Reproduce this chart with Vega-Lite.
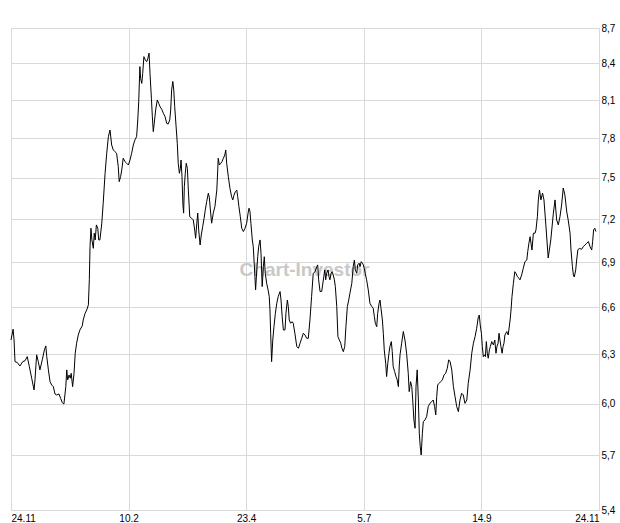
{
  "$schema": "https://vega.github.io/schema/vega-lite/v6.json",
  "width": 588,
  "height": 482,
  "autosize": {"type": "none"},
  "padding": {"left": 11, "top": 28, "right": 21, "bottom": 13},
  "background": "white",
  "config": {"view": {"stroke": "#d9d9d9", "strokeWidth": 1}, "font": "Liberation Sans"},
  "data": {"values": [
    {"t":0.0,"price":6.389},{"t":0.9,"price":6.458},{"t":1.3,"price":6.389},{"t":1.7,"price":6.254},{"t":2.7,"price":6.248},{"t":3.8,"price":6.227},{"t":5.0,"price":6.254},{"t":6.0,"price":6.260},{"t":6.9,"price":6.285},{"t":7.8,"price":6.223},
    {"t":8.8,"price":6.152},{"t":9.8,"price":6.081},{"t":10.2,"price":6.142},{"t":10.9,"price":6.296},{"t":11.6,"price":6.254},{"t":12.3,"price":6.203},{"t":13.3,"price":6.265},{"t":14.2,"price":6.327},{"t":14.8,"price":6.352},{"t":15.2,"price":6.285},
    {"t":15.9,"price":6.203},{"t":16.6,"price":6.131},{"t":17.3,"price":6.111},{"t":18.0,"price":6.101},{"t":18.7,"price":6.057},{"t":19.4,"price":6.051},{"t":20.4,"price":6.057},{"t":21.1,"price":6.031},{"t":21.8,"price":6.005},{"t":22.5,"price":5.997},
    {"t":23.3,"price":6.101},{"t":23.7,"price":6.203},{"t":24.1,"price":6.142},{"t":24.7,"price":6.172},{"t":25.2,"price":6.152},{"t":25.6,"price":6.182},{"t":26.2,"price":6.101},{"t":26.8,"price":6.182},{"t":27.3,"price":6.306},{"t":27.9,"price":6.369},
    {"t":28.6,"price":6.421},{"t":29.3,"price":6.453},{"t":30.3,"price":6.479},{"t":30.7,"price":6.517},{"t":31.5,"price":6.560},{"t":32.2,"price":6.582},{"t":32.9,"price":6.615},{"t":33.3,"price":6.781},{"t":33.6,"price":7.007},{"t":34.0,"price":7.136},
    {"t":34.4,"price":7.054},{"t":35.0,"price":6.996},{"t":35.4,"price":7.101},{"t":35.8,"price":7.054},{"t":36.3,"price":7.160},{"t":36.9,"price":7.136},{"t":37.3,"price":7.054},{"t":37.8,"price":7.054},{"t":38.6,"price":7.172},{"t":39.2,"price":7.315},
    {"t":40.0,"price":7.535},{"t":40.7,"price":7.686},{"t":41.4,"price":7.813},{"t":42.1,"price":7.865},{"t":42.8,"price":7.749},{"t":43.5,"price":7.711},{"t":44.2,"price":7.698},{"t":44.9,"price":7.686},{"t":45.6,"price":7.585},{"t":46.0,"price":7.473},
    {"t":46.6,"price":7.510},{"t":47.1,"price":7.560},{"t":47.7,"price":7.648},{"t":48.5,"price":7.622},{"t":49.2,"price":7.610},{"t":49.9,"price":7.597},{"t":50.6,"price":7.635},{"t":51.3,"price":7.686},{"t":52.0,"price":7.749},{"t":52.7,"price":7.788},
    {"t":53.4,"price":7.813},{"t":53.9,"price":7.943},{"t":54.3,"price":8.087},{"t":54.8,"price":8.374},{"t":55.1,"price":8.277},{"t":55.6,"price":8.236},{"t":56.0,"price":8.318},{"t":56.5,"price":8.457},{"t":57.1,"price":8.429},{"t":57.7,"price":8.415},
    {"t":58.2,"price":8.443},{"t":58.7,"price":8.486},{"t":59.1,"price":8.318},{"t":59.7,"price":8.115},{"t":60.1,"price":7.969},{"t":60.5,"price":7.852},{"t":60.9,"price":7.917},{"t":61.5,"price":8.022},{"t":62.2,"price":8.102},{"t":62.8,"price":8.075},
    {"t":63.4,"price":8.048},{"t":64.1,"price":8.027},{"t":64.8,"price":7.995},{"t":65.5,"price":7.969},{"t":66.2,"price":7.917},{"t":66.8,"price":7.911},{"t":67.5,"price":7.943},{"t":67.9,"price":8.022},{"t":68.3,"price":8.183},{"t":68.8,"price":8.252},
    {"t":69.2,"price":8.183},{"t":69.6,"price":8.048},{"t":70.2,"price":7.890},{"t":70.7,"price":7.762},{"t":71.1,"price":7.610},{"t":71.6,"price":7.535},{"t":72.0,"price":7.572},{"t":72.3,"price":7.635},{"t":72.7,"price":7.510},{"t":73.1,"price":7.302},
    {"t":73.4,"price":7.244},{"t":73.7,"price":7.436},{"t":74.1,"price":7.535},{"t":74.5,"price":7.610},{"t":75.0,"price":7.572},{"t":75.4,"price":7.411},{"t":76.0,"price":7.218},{"t":76.8,"price":7.207},{"t":77.5,"price":7.195},{"t":78.1,"price":7.124},
    {"t":78.5,"price":7.066},{"t":79.0,"price":7.172},{"t":79.4,"price":7.244},{"t":79.8,"price":7.124},{"t":80.4,"price":7.019},{"t":80.9,"price":7.089},{"t":81.5,"price":7.148},{"t":82.1,"price":7.207},{"t":82.6,"price":7.267},{"t":83.2,"price":7.327},
    {"t":83.9,"price":7.388},{"t":84.3,"price":7.360},{"t":84.9,"price":7.244},{"t":85.3,"price":7.172},{"t":86.0,"price":7.244},{"t":86.7,"price":7.291},{"t":87.5,"price":7.411},{"t":87.9,"price":7.560},{"t":88.1,"price":7.648},{"t":88.6,"price":7.597},
    {"t":89.2,"price":7.610},{"t":89.7,"price":7.622},{"t":90.3,"price":7.648},{"t":90.9,"price":7.673},{"t":91.3,"price":7.711},{"t":91.7,"price":7.610},{"t":92.4,"price":7.510},{"t":93.1,"price":7.423},{"t":93.8,"price":7.362},{"t":94.3,"price":7.339},
    {"t":94.8,"price":7.374},{"t":95.4,"price":7.399},{"t":96.0,"price":7.411},{"t":96.4,"price":7.362},{"t":96.9,"price":7.291},{"t":97.5,"price":7.218},{"t":98.1,"price":7.136},{"t":98.8,"price":7.113},{"t":99.5,"price":7.136},{"t":100.2,"price":7.172},
    {"t":100.8,"price":7.244},{"t":101.2,"price":7.279},{"t":101.6,"price":7.255},{"t":102.0,"price":7.172},{"t":102.6,"price":7.054},{"t":103.0,"price":7.007},{"t":103.4,"price":6.894},{"t":103.7,"price":6.803},{"t":104.0,"price":6.714},{"t":104.5,"price":6.848},
    {"t":104.9,"price":6.938},{"t":105.3,"price":7.007},{"t":105.9,"price":7.054},{"t":106.3,"price":6.961},{"t":106.6,"price":6.825},{"t":106.8,"price":6.736},{"t":107.3,"price":6.870},{"t":107.7,"price":6.938},{"t":108.1,"price":6.825},{"t":108.7,"price":6.758},
    {"t":109.3,"price":6.714},{"t":109.8,"price":6.669},{"t":110.1,"price":6.582},{"t":110.4,"price":6.432},{"t":110.8,"price":6.254},{"t":111.3,"price":6.389},{"t":111.8,"price":6.474},{"t":112.4,"price":6.560},{"t":113.0,"price":6.626},{"t":113.6,"price":6.669},
    {"t":114.4,"price":6.703},{"t":114.8,"price":6.647},{"t":115.3,"price":6.538},{"t":115.8,"price":6.453},{"t":116.5,"price":6.453},{"t":116.9,"price":6.560},{"t":117.5,"price":6.647},{"t":117.9,"price":6.604},{"t":118.3,"price":6.517},{"t":118.9,"price":6.496},
    {"t":119.5,"price":6.506},{"t":120.0,"price":6.496},{"t":120.7,"price":6.432},{"t":121.5,"price":6.348},{"t":122.2,"price":6.337},{"t":122.9,"price":6.369},{"t":123.6,"price":6.400},{"t":124.3,"price":6.432},{"t":125.0,"price":6.421},{"t":125.7,"price":6.400},
    {"t":126.4,"price":6.400},{"t":127.1,"price":6.517},{"t":127.8,"price":6.669},{"t":128.5,"price":6.825},{"t":129.3,"price":6.836},{"t":130.0,"price":6.870},{"t":130.4,"price":6.882},{"t":130.8,"price":6.781},{"t":131.4,"price":6.703},{"t":132.1,"price":6.703},
    {"t":132.5,"price":6.747},{"t":133.0,"price":6.803},{"t":133.4,"price":6.848},{"t":133.8,"price":6.781},{"t":134.2,"price":6.825},{"t":134.8,"price":6.848},{"t":135.2,"price":6.803},{"t":135.6,"price":6.781},{"t":136.1,"price":6.825},{"t":136.5,"price":6.836},
    {"t":137.0,"price":6.814},{"t":137.5,"price":6.781},{"t":137.9,"price":6.736},{"t":138.5,"price":6.604},{"t":139.0,"price":6.410},{"t":139.6,"price":6.389},{"t":140.2,"price":6.369},{"t":140.7,"price":6.337},{"t":141.3,"price":6.316},{"t":141.9,"price":6.348},
    {"t":142.4,"price":6.474},{"t":143.0,"price":6.604},{"t":143.6,"price":6.647},{"t":144.1,"price":6.692},{"t":144.9,"price":6.758},{"t":145.5,"price":6.870},{"t":146.0,"price":6.915},{"t":146.4,"price":6.848},{"t":147.0,"price":6.825},{"t":147.4,"price":6.882},
    {"t":148.0,"price":6.894},{"t":148.4,"price":6.870},{"t":148.9,"price":6.904},{"t":149.4,"price":6.894},{"t":149.8,"price":6.882},{"t":150.2,"price":6.859},{"t":150.6,"price":6.825},{"t":151.2,"price":6.781},{"t":151.9,"price":6.714},{"t":152.6,"price":6.626},
    {"t":153.4,"price":6.604},{"t":154.0,"price":6.593},{"t":154.5,"price":6.538},{"t":154.9,"price":6.496},{"t":155.5,"price":6.474},{"t":155.9,"price":6.560},{"t":156.5,"price":6.626},{"t":156.9,"price":6.647},{"t":157.3,"price":6.593},{"t":157.9,"price":6.517},
    {"t":158.3,"price":6.432},{"t":158.7,"price":6.327},{"t":159.3,"price":6.244},{"t":159.7,"price":6.162},{"t":160.2,"price":6.244},{"t":160.7,"price":6.306},{"t":161.1,"price":6.348},{"t":161.7,"price":6.379},{"t":162.1,"price":6.316},{"t":162.5,"price":6.223},
    {"t":163.1,"price":6.193},{"t":163.7,"price":6.162},{"t":164.2,"price":6.142},{"t":164.7,"price":6.101},{"t":165.1,"price":6.233},{"t":165.4,"price":6.296},{"t":166.1,"price":6.369},{"t":166.8,"price":6.443},{"t":167.5,"price":6.389},{"t":168.2,"price":6.306},
    {"t":168.9,"price":6.182},{"t":169.3,"price":6.071},{"t":169.9,"price":6.131},{"t":170.4,"price":6.101},{"t":170.8,"price":6.021},{"t":171.3,"price":5.903},{"t":171.8,"price":5.855},{"t":172.2,"price":6.101},{"t":172.7,"price":6.203},{"t":173.2,"price":6.021},
    {"t":173.6,"price":5.826},{"t":174.0,"price":5.749},{"t":174.4,"price":5.702},{"t":174.9,"price":5.826},{"t":175.3,"price":5.893},{"t":176.0,"price":5.903},{"t":176.7,"price":5.922},{"t":177.4,"price":5.982},{"t":178.1,"price":6.001},{"t":178.9,"price":6.011},
    {"t":179.5,"price":6.021},{"t":180.1,"price":5.982},{"t":180.6,"price":5.933},{"t":181.0,"price":6.041},{"t":181.4,"price":6.111},{"t":182.0,"price":6.121},{"t":182.7,"price":6.131},{"t":183.4,"price":6.142},{"t":184.1,"price":6.172},{"t":184.8,"price":6.182},
    {"t":185.5,"price":6.213},{"t":186.1,"price":6.265},{"t":186.7,"price":6.254},{"t":187.4,"price":6.203},{"t":188.1,"price":6.101},{"t":188.8,"price":6.041},{"t":189.5,"price":5.982},{"t":190.2,"price":5.952},{"t":190.9,"price":6.021},{"t":191.6,"price":6.061},
    {"t":192.3,"price":6.051},{"t":193.0,"price":6.001},{"t":193.8,"price":6.021},{"t":194.4,"price":6.121},{"t":195.2,"price":6.203},{"t":195.9,"price":6.306},{"t":196.6,"price":6.369},{"t":197.3,"price":6.410},{"t":198.0,"price":6.464},{"t":198.7,"price":6.538},
    {"t":199.1,"price":6.549},{"t":199.5,"price":6.485},{"t":200.0,"price":6.432},{"t":200.4,"price":6.348},{"t":200.8,"price":6.285},{"t":201.2,"price":6.296},{"t":201.7,"price":6.285},{"t":202.1,"price":6.379},{"t":202.5,"price":6.306},{"t":202.9,"price":6.275},
    {"t":203.4,"price":6.327},{"t":203.8,"price":6.348},{"t":204.4,"price":6.379},{"t":205.1,"price":6.358},{"t":205.7,"price":6.389},{"t":206.2,"price":6.306},{"t":206.6,"price":6.348},{"t":207.1,"price":6.369},{"t":207.5,"price":6.432},{"t":207.9,"price":6.389},
    {"t":208.3,"price":6.348},{"t":208.8,"price":6.306},{"t":209.2,"price":6.348},{"t":209.6,"price":6.369},{"t":210.0,"price":6.421},{"t":210.8,"price":6.443},{"t":211.4,"price":6.421},{"t":212.2,"price":6.517},{"t":212.6,"price":6.582},{"t":213.0,"price":6.669},
    {"t":213.6,"price":6.758},{"t":214.2,"price":6.836},{"t":214.7,"price":6.825},{"t":215.3,"price":6.803},{"t":215.9,"price":6.792},{"t":216.4,"price":6.781},{"t":217.1,"price":6.814},{"t":217.8,"price":6.859},{"t":218.5,"price":6.904},{"t":219.3,"price":6.915},
    {"t":219.7,"price":6.973},{"t":220.2,"price":7.031},{"t":220.7,"price":7.077},{"t":221.1,"price":7.031},{"t":221.5,"price":6.984},{"t":222.1,"price":7.101},{"t":222.8,"price":7.101},{"t":223.2,"price":7.124},{"t":223.8,"price":7.218},{"t":224.2,"price":7.339},
    {"t":224.7,"price":7.411},{"t":225.3,"price":7.339},{"t":226.0,"price":7.389},{"t":226.6,"price":7.339},{"t":227.4,"price":7.160},{"t":228.4,"price":6.929},{"t":229.5,"price":7.054},{"t":230.6,"price":7.244},{"t":231.3,"price":7.339},{"t":232.0,"price":7.195},
    {"t":232.7,"price":7.160},{"t":233.4,"price":7.218},{"t":234.1,"price":7.302},{"t":234.8,"price":7.426},{"t":235.5,"price":7.374},{"t":236.3,"price":7.252},{"t":236.9,"price":7.195},{"t":237.7,"price":7.101},{"t":238.1,"price":6.984},{"t":238.7,"price":6.870},
    {"t":239.1,"price":6.814},{"t":239.5,"price":6.800},{"t":240.1,"price":6.848},{"t":240.5,"price":6.915},{"t":241.0,"price":6.984},{"t":241.6,"price":6.996},{"t":242.6,"price":6.989},{"t":243.3,"price":7.007},{"t":244.0,"price":7.019},{"t":244.8,"price":7.031},
    {"t":245.5,"price":7.043},{"t":246.2,"price":7.007},{"t":246.9,"price":6.984},{"t":247.3,"price":7.043},{"t":247.7,"price":7.124},{"t":248.2,"price":7.136},{"t":248.7,"price":7.113}
  ]},
  "encoding": {
    "x": {
      "field": "t", "type": "quantitative",
      "scale": {"domain": [0, 250], "nice": false, "zero": false},
      "axis": {
        "values": [0, 50, 100, 150, 200, 250],
        "labelExpr": "datum.value == 0 ? '24.11' : datum.value == 50 ? '10.2' : datum.value == 100 ? '23.4' : datum.value == 150 ? '5.7' : datum.value == 200 ? '14.9' : '24.11'",
        "title": null, "ticks": false, "tickSize": 0, "domain": false,
        "grid": true, "gridColor": "#d9d9d9", "gridWidth": 1,
        "labelPadding": 3, "labelFlush": true, "labelOverlap": false,
        "labelFont": "Liberation Sans", "labelFontSize": 10, "labelColor": "#000000"
      }
    },
    "y": {
      "field": "price", "type": "quantitative",
      "scale": {"type": "log", "domain": [5.4, 8.7], "nice": false},
      "axis": {
        "orient": "right",
        "values": [5.4, 5.7, 6.0, 6.3, 6.6, 6.9, 7.2, 7.5, 7.8, 8.1, 8.4, 8.7],
        "labelExpr": "replace(format(datum.value, '.1f'), '.', ',')",
        "title": null, "ticks": false, "tickSize": 0, "domain": false,
        "grid": true, "gridColor": "#d9d9d9", "gridWidth": 1,
        "labelPadding": 2, "labelFlush": false, "labelOverlap": false,
        "labelFont": "Liberation Sans", "labelFontSize": 10, "labelColor": "#000000"
      }
    }
  },
  "layer": [
    {
      "data": {"values": [{"t": 124.8, "price": 6.85, "label": "Chart-Investor"}]},
      "mark": {"type": "text", "font": "Liberation Sans", "fontSize": 19, "fontWeight": "bold", "color": "#c8c8c8", "baseline": "middle", "align": "center"},
      "encoding": {"text": {"field": "label"}}
    },
    {
      "mark": {"type": "line", "color": "#000000", "strokeWidth": 1, "interpolate": "linear"},
      "encoding": {}
    }
  ]
}
